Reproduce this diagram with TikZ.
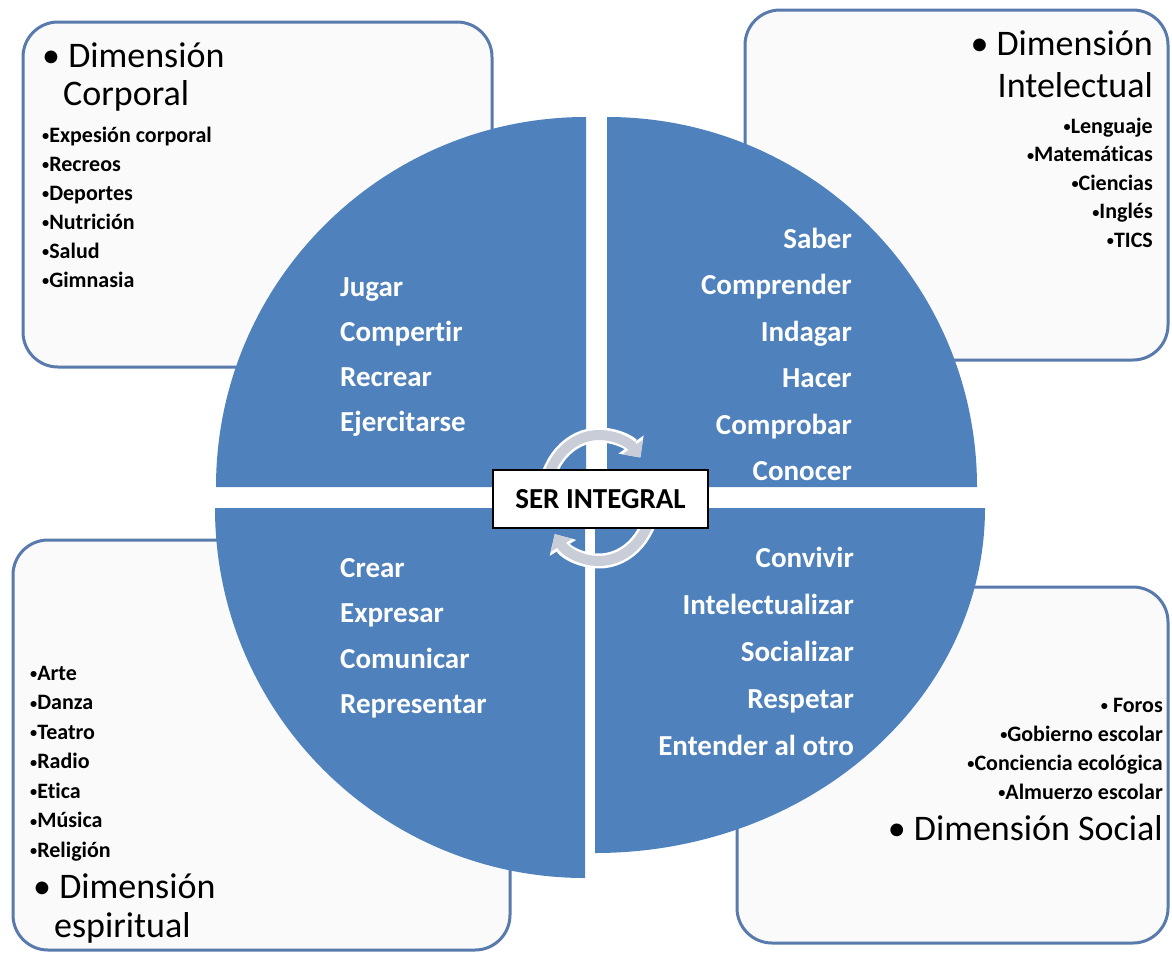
\documentclass[tikz,border=0pt]{standalone}
\usepackage{fontspec}
\setmainfont[Ligatures=NoCommon]{Carlito}
\usetikzlibrary{arrows.meta}
\definecolor{quadblue}{RGB}{79,129,189}
\definecolor{boxline}{RGB}{88,122,172}
\definecolor{boxfill}{RGB}{250,250,250}
\definecolor{ringgray}{RGB}{200,205,216}
\newcommand{\smallbul}{\raisebox{0.12ex}{\scalebox{0.65}{•}}}

\begin{document}
\begin{tikzpicture}[x=1pt,y=-1pt,
  dimbox/.style={draw=boxline,line width=3pt,fill=boxfill,rounded corners=35pt},
  quad/.style={fill=quadblue},
  quadtxt/.style={text=white,inner sep=0pt,font=\fontsize{29}{32}\selectfont\bfseries},
  itemtxt/.style={inner sep=0pt,font=\fontsize{22}{24}\selectfont\bfseries},
  headtxt/.style={inner sep=0pt,font=\fontsize{36}{40}\selectfont},
  ringedge/.style={draw=white,line width=15pt,-{Triangle[length=16pt,width=30pt]}},
  ring/.style={draw=ringgray,line width=10pt,-{Triangle[length=13pt,width=24pt]}}]
\useasboundingbox (0,0) rectangle (1172,956);
\fill[color=white] (0,0) rectangle (1172,956);
% boxes
\draw[dimbox] (23,22) rectangle (492,367);   %corporal
\draw[dimbox] (745,10) rectangle (1168,360); %intelectual
\draw[dimbox] (13,540) rectangle (510,950);  %espiritual
\draw[dimbox] (737,587) rectangle (1168,943);%social
% quadrants
\fill[quad] (586,487) -- (216,487) arc[start angle=180,end angle=270,radius=370] -- cycle;
\fill[quad] (607,487) -- (607,117) arc[start angle=270,end angle=360,radius=370] -- cycle;
\fill[quad] (585,508) -- (215,508) arc[start angle=180,end angle=90,radius=370] -- cycle;
\fill[quad] (595,508) -- (985,508) arc[start angle=0,end angle=90,x radius=390,y radius=345] -- cycle;
\foreach \w [count=\i] in {Jugar,Compertir,Recrear,Ejercitarse}
  \node[quadtxt,anchor=base west] (tl\i) at (340,{251+45*\i}) {\w};
\foreach \w [count=\i] in {Saber,Comprender,Indagar,Hacer,Comprobar,Conocer}
  \node[quadtxt,anchor=base east] (tr\i) at (852,{202+46.4*\i}) {\w};
\foreach \w [count=\i] in {Crear,Expresar,Comunicar,Representar}
  \node[quadtxt,anchor=base west] (bl\i) at (340,{531.5+45.6*\i}) {\w};
\foreach \w [count=\i] in {Convivir,Intelectualizar,Socializar,Respetar,Entender al otro}
  \node[quadtxt,anchor=base east] (br\i) at (854,{521+46.8*\i}) {\w};
% circular arrows
\draw[ringedge] (545.2,503.5) arc[start angle=175,end angle=320,x radius=54,y radius=63];
\draw[ringedge] (652.8,492.5) arc[start angle=355,end angle=505,x radius=54,y radius=63];
\draw[ring] (545.2,503.5) arc[start angle=175,end angle=320,x radius=54,y radius=63];
\draw[ring] (652.8,492.5) arc[start angle=355,end angle=505,x radius=54,y radius=63];
\node[draw=black,line width=1.5pt,fill=white,minimum width=215pt,minimum height=58pt,inner sep=0pt,
  font=\fontsize{29}{32}\selectfont\bfseries] (serIntegral) at (600.5,499) {SER INTEGRAL};
% corporal
\node[headtxt,anchor=base west] (corpHead) at (42,67) {• Dimensión};
\node[headtxt,anchor=base west] (corpHeadB) at (63,105) {Corporal};
\foreach \w [count=\i] in {Expesión corporal,Recreos,Deportes,Nutrición,Salud,Gimnasia}
  \node[itemtxt,anchor=base west] (corp\i) at (42,{113+29*\i}) {\smallbul\w};
% intelectual
\node[headtxt,anchor=base east] (intHead) at (1153,55) {• Dimensión};
\node[headtxt,anchor=base east] (intHeadB) at (1153,97) {Intelectual};
\foreach \w [count=\i] in {Lenguaje,Matemáticas,Ciencias,Inglés,TICS}
  \node[itemtxt,anchor=base east] (int\i) at (1153,{104.5+28.5*\i}) {\smallbul\w};
% espiritual
\foreach \w [count=\i] in {Arte,Danza,Teatro,Radio,Etica,Música,Religión}
  \node[itemtxt,anchor=base west] (esp\i) at (30,{650.5+29.5*\i}) {\smallbul\w};
\node[headtxt,anchor=base west] (espHead) at (33,898) {• Dimensión};
\node[headtxt,anchor=base west] (espHeadB) at (54,937) {espiritual};
% social
\node[itemtxt,anchor=base east] (soc1) at (1163,712) {\smallbul\ Foros};
\foreach \w [count=\i from 2] in {Gobierno escolar,Conciencia ecológica,Almuerzo escolar}
  \node[itemtxt,anchor=base east] (soc\i) at (1163,{683+29*\i}) {\smallbul\w};
\node[headtxt,anchor=base east] (socHead) at (1163,840) {• Dimensión Social};
\end{tikzpicture}
\end{document}
